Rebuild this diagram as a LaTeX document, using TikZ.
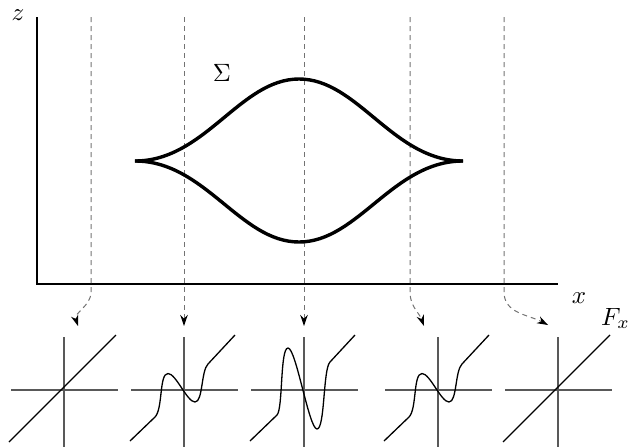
\documentclass[tikz,border=0pt]{standalone}
\usetikzlibrary{arrows.meta}
\begin{document}
\begin{tikzpicture}[x=1pt,y=-1pt,
  sigmaline/.style={line width=3.4pt,line cap=butt},
  mainaxis/.style={line width=2pt},
  guide/.style={draw=black!55,line width=1pt,dash pattern=on 5pt off 4pt},
  guidearrow/.style={guide,-{Stealth[length=11pt,width=7.5pt,black]}},
  smallaxis/.style={draw=black!65,line width=1.2pt},
  smallcurve/.style={line width=1.3pt,line join=round},
  lbl/.style={inner sep=0pt}]
\useasboundingbox (0,0) rectangle (628,447);
% main axes
\coordinate (ztop) at (37,17);
\coordinate (origin) at (37,284);
\coordinate (xend) at (558,284);
\draw[mainaxis] (ztop) -- (origin) -- (xend);
\node[lbl] (zlab) at (18,15) {\scalebox{2.5}{$z$}};
\node[lbl] (xlab) at (579,298) {\scalebox{2.5}{$x$}};
% guide lines and arrows
\foreach \i/\gx in {1/91,2/184,3/304,4/410,5/504}{
  \coordinate (g\i top) at (\gx,17);
  \coordinate (g\i bend) at (\gx,292);
}
\coordinate (a1) at (78,326);
\coordinate (a2) at (184,326);
\coordinate (a3) at (304,326);
\coordinate (a4) at (424,326);
\coordinate (a5) at (548,325);
\draw[guidearrow] (g1top) -- (g1bend) to[out=-90,in=108] (a1);
\draw[guidearrow] (g2top) -- (a2);
\draw[guidearrow] (g3top) -- (a3);
\draw[guidearrow] (g4top) -- (g4bend) to[out=-90,in=110] (a4);
\draw[guidearrow] (g5top) -- (g5bend) to[out=-90,in=152] (a5);
% Sigma surface
\coordinate (cuspL) at (135,161);
\coordinate (cuspR) at (463,161);
\coordinate (stop) at (299,79);
\coordinate (sbot) at (299,242);
\draw[sigmaline] (cuspL) .. controls (205,161) and (240,79) .. (stop)
  .. controls (358,79) and (393,161) .. (cuspR);
\draw[sigmaline] (cuspL) .. controls (205,161) and (240,242) .. (sbot)
  .. controls (358,242) and (393,161) .. (cuspR);
\node[lbl] (sigmalab) at (222,73) {\scalebox{2.5}{$\Sigma$}};
% small graphs
\foreach \i/\cx in {1/64,2/184,3/304,4/438,5/558}{
  \coordinate (c\i) at (\cx,390);
  \draw[smallaxis] (\cx,337) -- (\cx,447);
  \draw[smallaxis] (\cx-53,390) -- (\cx+54,390);
}
\begin{scope}[shift={(c1)},yscale=-1]
  \draw[smallcurve] (-55,-52) -- (52,55);
\end{scope}
\begin{scope}[shift={(c5)},yscale=-1]
  \draw[smallcurve] (-55,-52) -- (52,55);
\end{scope}
\foreach \i in {2,4}{
  \begin{scope}[shift={(c\i)},yscale=-1]
    \draw[smallcurve] (-54,-51) -- (-29,-27)
      .. controls (-21,-19) and (-25,16.5) .. (-16,16.5)
      .. controls (-8,16.5) and (3,-12) .. (11,-12)
      .. controls (19,-12) and (17,19) .. (24,26) -- (51,55);
  \end{scope}
}
\begin{scope}[shift={(c3)},yscale=-1]
  \draw[smallcurve] (-54,-51) -- (-27,-25)
    .. controls (-21,-19) and (-24,42) .. (-16,42)
    .. controls (-8,42) and (5,-39) .. (13,-39)
    .. controls (21,-39) and (19,21) .. (26,28) -- (51,55);
\end{scope}
\node[lbl,anchor=base west] (flab) at (601,325) {\scalebox{2.5}{$F_x$}};
\end{tikzpicture}
\end{document}
